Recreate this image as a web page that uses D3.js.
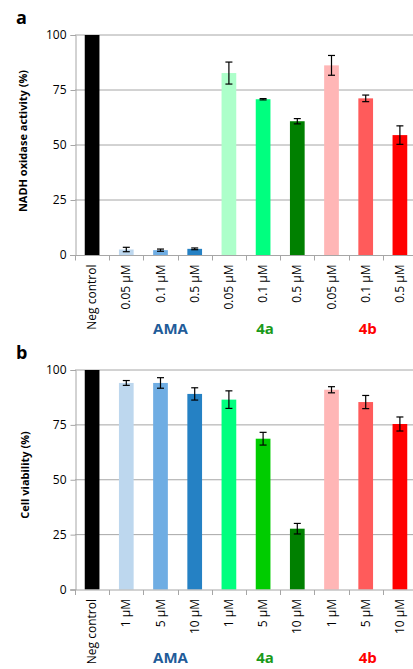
<!DOCTYPE html>
<html>
<head>
<meta charset="utf-8">
<script src="https://cdn.jsdelivr.net/npm/d3@7"></script>
<style>
  body { margin: 0; background: #fff; }
  text { font-family: "Open Sans", "Liberation Sans", sans-serif; }
</style>
</head>
<body>
<div id="chart"></div>
<script>
var width = 413, height = 669;

// panel a: NADH oxidase activity
var catsA = ['Neg control', '0.05 µM', '0.1 µM', '0.5 µM', '0.05 µM', '0.1 µM', '0.5 µM', '0.05 µM', '0.1 µM', '0.5 µM'];
var valsA = [100, 2.5, 2.2, 2.8, 82.7, 70.8, 60.8, 86.2, 71.2, 54.5];
var errsA = [0, 1.0, 0.5, 0.4, 5.0, 0.3, 1.2, 4.5, 1.5, 4.2];
var colsA = ['#000000', '#bdd7ee', '#6fade3', '#2581c4', '#adffca', '#00ff7f', '#008000', '#ffb6b6', '#ff5b5b', '#ff0000'];

// panel b: cell viability
var catsB = ['Neg control', '1 µM', '5 µM', '10 µM', '1 µM', '5 µM', '10 µM', '1 µM', '5 µM', '10 µM'];
var valsB = [100, 94.1, 94.1, 89.1, 86.5, 68.7, 27.7, 91.0, 85.4, 75.4];
var errsB = [0, 1.1, 2.4, 2.8, 4.0, 2.9, 2.4, 1.4, 3.0, 3.2];
var colsB = ['#000000', '#bdd7ee', '#6fade3', '#2581c4', '#00ff7f', '#00cc00', '#008000', '#ffb6b6', '#ff5b5b', '#ff0000'];

var groups = ['AMA', '4a', '4b'];
var groupCols = ['#1f5c99', '#1a9a1a', '#ff0000'];
var groupIdx = [2, 5, 8];
var yTicks = [0, 25, 50, 75, 100];

var svg = d3.select('#chart').append('svg')
    .attr('width', width)
    .attr('height', height);

function drawPanel(opt) {
    var idx = d3.range(opt.cats.length);
    var x = d3.scaleBand().domain(idx).range([75, 417]);
    var y = d3.scaleLinear().domain([0, 100]).range([opt.bottom, opt.top]);
    var g = svg.append('g');

    // gridlines
    g.selectAll('line.grid')
        .data(yTicks.filter(function (d) { return d > 0; }))
        .enter().append('line')
        .attr('x1', 75).attr('x2', width)
        .attr('y1', function (d) { return y(d); })
        .attr('y2', function (d) { return y(d); })
        .attr('stroke', '#a6a6a6').attr('stroke-width', 1);

    // y axis
    var yAxis = d3.axisLeft(y).tickValues(yTicks).tickSize(5).tickPadding(4);
    var ya = g.append('g').attr('transform', 'translate(75.5,0)').call(yAxis);
    ya.select('.domain').attr('stroke', '#a6a6a6');
    ya.selectAll('.tick line').attr('stroke', '#a6a6a6');
    ya.selectAll('.tick text').attr('font-size', 12).attr('fill', '#000')
        .style('font-family', '"Open Sans", sans-serif');

    // bars
    var bw = x.bandwidth() * 0.43;
    g.selectAll('rect.bar')
        .data(opt.vals)
        .enter().append('rect')
        .attr('x', function (d, i) { return x(i) + (x.bandwidth() - bw) / 2; })
        .attr('y', function (d) { return y(d); })
        .attr('width', bw)
        .attr('height', function (d) { return y(0) - y(d); })
        .attr('fill', function (d, i) { return opt.cols[i]; });

    // error bars
    var eb = g.selectAll('g.err')
        .data(idx.filter(function (i) { return opt.errs[i] > 0; }))
        .enter().append('g')
        .attr('stroke', '#000').attr('stroke-width', 1.2);
    eb.append('line')
        .attr('x1', function (i) { return x(i) + x.bandwidth() / 2; })
        .attr('x2', function (i) { return x(i) + x.bandwidth() / 2; })
        .attr('y1', function (i) { return y(opt.vals[i] + opt.errs[i]); })
        .attr('y2', function (i) { return y(opt.vals[i] - opt.errs[i]); });
    [1, -1].forEach(function (s) {
        eb.append('line')
            .attr('x1', function (i) { return x(i) + x.bandwidth() / 2 - 3.5; })
            .attr('x2', function (i) { return x(i) + x.bandwidth() / 2 + 3.5; })
            .attr('y1', function (i) { return y(opt.vals[i] + s * opt.errs[i]); })
            .attr('y2', function (i) { return y(opt.vals[i] + s * opt.errs[i]); });
    });

    // x axis line + tick marks between categories
    var y0 = y(0) + 0.5;
    g.append('line').attr('x1', 70).attr('x2', width)
        .attr('y1', y0).attr('y2', y0).attr('stroke', '#a6a6a6');
    g.selectAll('line.xt')
        .data(idx)
        .enter().append('line')
        .attr('x1', function (i) { return Math.round(x(i)) + 0.5; })
        .attr('x2', function (i) { return Math.round(x(i)) + 0.5; })
        .attr('y1', y0).attr('y2', y0 + 5)
        .attr('stroke', '#a6a6a6');

    // rotated category labels
    g.selectAll('text.cat')
        .data(opt.cats)
        .enter().append('text')
        .attr('transform', function (d, i) {
            return 'translate(' + (x(i) + x.bandwidth() / 2 + 4) + ',' + (y0 + 9) + ') rotate(-90)';
        })
        .attr('text-anchor', 'end')
        .attr('font-size', 12)
        .text(function (d) { return d; });

    // group labels
    g.selectAll('text.grp')
        .data(groups)
        .enter().append('text')
        .attr('x', function (d, i) { return x(groupIdx[i]) + x.bandwidth() / 2 + (i === 0 ? 10 : 2); })
        .attr('y', opt.grpY)
        .attr('text-anchor', 'middle')
        .attr('font-size', 15)
        .attr('font-weight', 'bold')
        .attr('fill', function (d, i) { return groupCols[i]; })
        .text(function (d) { return d; });

    // axis title
    g.append('text')
        .attr('transform', 'translate(' + opt.titleX + ',' + opt.titleY + ') rotate(-90)')
        .attr('text-anchor', 'middle')
        .attr('font-size', 11)
        .attr('font-weight', 'bold')
        .text(opt.title);

    // panel letter
    g.append('text')
        .attr('x', 16).attr('y', opt.letterY)
        .attr('font-size', 18)
        .attr('font-weight', 'bold')
        .text(opt.letter);
}

drawPanel({
    cats: catsA, vals: valsA, errs: errsA, cols: colsA,
    top: 35, bottom: 255, grpY: 334, titleX: 27, titleY: 141,
    title: 'NADH oxidase activity (%)', letter: 'a', letterY: 24
});

drawPanel({
    cats: catsB, vals: valsB, errs: errsB, cols: colsB,
    top: 370, bottom: 589.5, grpY: 663, titleX: 29, titleY: 475,
    title: 'Cell viability (%)', letter: 'b', letterY: 359
});
</script>
</body>
</html>
